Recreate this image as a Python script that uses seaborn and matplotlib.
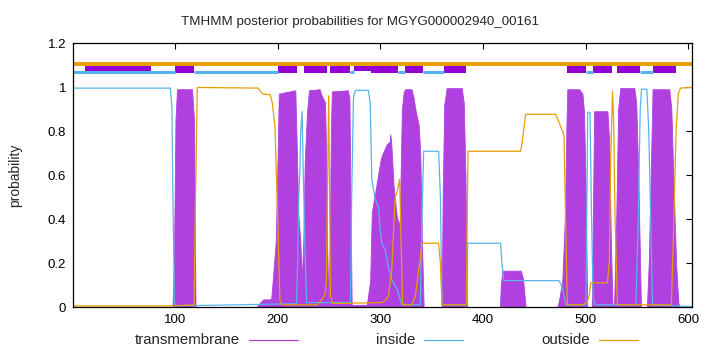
import matplotlib
matplotlib.use("Agg")
import matplotlib.pyplot as plt
import seaborn as sns
import numpy as np
from matplotlib.lines import Line2D

# posterior profiles (residue, probability)
tm_x = [1, 97.6, 99.0, 100.5, 102.0, 116.6, 118.6, 120.0, 179.1, 181.1, 186.0, 192.8, 193.8, 195.7,
        198.2, 199.6, 201.1, 217.2, 218.5, 220.1, 222.1, 223.5, 225.0, 226.4, 228.5, 230.5, 240.8,
        242.9, 246.2, 247.2, 248.1, 249.4, 250.8, 251.8, 252.8, 268.3, 269.9, 270.9, 272.1, 286.8,
        290.1, 291.7, 295.0, 299.9, 301.5, 306.3, 309.0, 309.7, 310.6, 312.9, 316.1, 318.8, 321.0,
        322.7, 324.1, 330.4, 332.4, 334.6, 337.3, 338.9, 340.5, 342.2, 359.8, 360.7, 362.2, 364.6,
        379.3, 381.2, 382.9, 384.5, 416.4, 417.4, 418.8, 436.9, 438.9, 441.5, 472.4, 474.0, 477.2,
        479.9, 481.1, 482.1, 493.6, 496.8, 498.4, 500.1, 501.4, 505.9, 507.2, 508.2, 521.2, 522.9,
        524.5, 526.1, 527.7, 529.7, 531.6, 533.6, 547.3, 549.2, 551.2, 553.8, 559.6, 561.4, 563.3,
        565.1, 581.4, 583.4, 585.3, 588.0, 590.2, 591.2, 604]
tm_y = [0, 0, 0.2, 0.85, 0.99, 0.99, 0.85, 0, 0, 0.01, 0.035, 0.035, 0.04, 0.15,
        0.3, 0.6, 0.97, 0.985, 0.75, 0.42, 0.3, 0.12, 0.3, 0.66, 0.88, 0.985, 0.99,
        0.96, 0.93, 0.7, 0.3, 0.03, 0.3, 0.8, 0.98, 0.985, 0.95, 0.5, 0.01, 0.01,
        0.12, 0.43, 0.52, 0.66, 0.69, 0.74, 0.75, 0.785, 0.75, 0.55, 0.41, 0.37, 0.9,
        0.976, 0.99, 0.99, 0.95, 0.885, 0.83, 0.7, 0.3, 0, 0, 0.5, 0.92, 0.995,
        0.995, 0.93, 0.6, 0, 0, 0.1, 0.165, 0.165, 0.13, 0, 0, 0.03, 0.12,
        0.43, 0.8, 0.99, 0.99, 0.97, 0.885, 0.5, 0, 0, 0.5, 0.89, 0.89, 0.75,
        0.3, 0, 0.02, 0.4, 0.9, 0.995, 0.995, 0.93, 0.6, 0, 0, 0.2, 0.6,
        0.99, 0.99, 0.9, 0.6, 0.2, 0.02, 0, 0]

in_x = [1, 95.6, 97.1, 98.0, 99.5, 101.0, 218.5, 219.4, 220.6, 221.6, 222.5, 223.8, 225.0, 226.4,
        228.2, 270.9, 272.1, 273.8, 275.7, 288.4, 290.1, 291.7, 295.0, 298.2, 299.9, 301.5, 304.8,
        308.0, 311.2, 314.5, 317.8, 321.0, 338.9, 340.5, 342.2, 356.8, 358.5, 360.0, 384.5, 385.1,
        417.1, 418.4, 420.3, 474.0, 477.2, 478.9, 480.6, 500.1, 501.0, 502.0, 504.2, 505.7, 507.2,
        509.1, 548.9, 551.2, 553.1, 554.4, 559.6, 561.4, 563.3, 565.1, 604]
in_y = [0.995, 0.995, 0.9, 0.5, 0.02, 0.005, 0.015, 0.2, 0.5, 0.61, 0.8, 0.89, 0.6, 0.3,
        0.02, 0.02, 0.5, 0.95, 0.985, 0.985, 0.93, 0.58, 0.49, 0.455, 0.35, 0.29, 0.26,
        0.18, 0.12, 0.1, 0.06, 0.01, 0.01, 0.4, 0.708, 0.708, 0.5, 0.01, 0.01, 0.29,
        0.29, 0.2, 0.12, 0.12, 0.09, 0.05, 0.01, 0.01, 0.4, 0.885, 0.885, 0.4, 0.05,
        0.01, 0.01, 0.4, 0.9, 0.99, 0.99, 0.8, 0.4, 0.01, 0.002]

out_x = [1, 96.0, 118.6, 120.0, 121.8, 181.1, 184.0, 186.0, 192.8, 194.7, 197.4, 199.9, 202.2, 204.5,
         238.7, 242.6, 246.2, 247.5, 248.7, 249.7, 250.4, 251.4, 253.6, 301.4, 305.1, 308.0, 309.7,
         311.2, 312.9, 314.5, 316.1, 318.8, 320.2, 321.7, 330.8, 334.1, 337.3, 338.9, 340.5, 356.7,
         358.5, 360.0, 383.8, 384.6, 385.4, 436.6, 438.2, 441.5, 470.8, 475.7, 478.9, 480.4, 482.1,
         496.8, 501.4, 503.3, 505.0, 521.2, 522.9, 524.5, 526.1, 527.2, 528.6, 530.9, 583.4, 585.3,
         588.0, 590.2, 592.2, 604]
out_y = [0.005, 0.005, 0.01, 0.5, 0.998, 0.995, 0.975, 0.968, 0.965, 0.93, 0.82, 0.43, 0.03, 0.01,
         0.01, 0.03, 0.06, 0.12, 0.6, 0.96, 0.6, 0.05, 0.016, 0.02, 0.03, 0.05, 0.12,
         0.17, 0.35, 0.5, 0.52, 0.58, 0.3, 0.01, 0.01, 0.05, 0.165, 0.22, 0.29, 0.29,
         0.2, 0.01, 0.01, 0.4, 0.708, 0.708, 0.75, 0.876, 0.876, 0.82, 0.78, 0.4, 0.01,
         0.01, 0.02, 0.05, 0.11, 0.11, 0.2, 0.7, 0.98, 0.85, 0.4, 0.01, 0.01, 0.3,
         0.8, 0.97, 0.995, 0.998]

# topology bar at the top
tm_segments = [(100.3, 118.6), (200.6, 218.5), (225.3, 247.8), (251.0, 270.6), (291.4, 316.8),
               (323.6, 341.2), (362.0, 383.9), (481.5, 500.0), (507.2, 525.5), (530.4, 552.8),
               (565.8, 588.0)]
thin_segments = [(12.8, 76.9), (274.8, 291.4)]
in_segments = [(1, 100.3), (118.6, 200.6), (270.6, 274.8), (316.8, 323.6), (341.2, 362.0),
               (500.0, 507.2), (552.8, 565.8)]
seq_len = 604

purple_fill = "#b041e0"
purple_box = "#9400d3"
blue = "#56b4e9"
orange = "#e69f00"

sns.set_style("white")
plt.rcParams['font.family'] = ['Liberation Sans', 'DejaVu Sans']

fig = plt.figure(figsize=(7.2, 3.52), dpi=100)
ax = fig.add_axes([0.1018, 0.1278, 0.86, 0.75])

ax.fill_between(tm_x, 0, tm_y, color=purple_fill, linewidth=0.6, edgecolor=purple_fill)
sns.lineplot(x=in_x, y=in_y, ax=ax, color=blue, linewidth=0.9, estimator=None, sort=False)
sns.lineplot(x=out_x, y=out_y, ax=ax, color=orange, linewidth=0.9, estimator=None, sort=False)

# top bar
ax.plot([1, seq_len], [1.106, 1.106], color=orange, linewidth=2.8, solid_capstyle='butt')
for a, b in in_segments:
    ax.plot([a, b], [1.068, 1.068], color=blue, linewidth=2.2, solid_capstyle='butt')
for a, b in thin_segments:
    ax.fill_between([a, b], 1.073, 1.097, color=purple_box, linewidth=0)
for a, b in tm_segments:
    ax.fill_between([a, b], 1.064, 1.109, color=purple_box, linewidth=0)

ax.set_xlim(1, seq_len)
ax.set_ylim(0, 1.2)
ax.set_xticks([100, 200, 300, 400, 500, 600])
ax.set_yticks([0, 0.2, 0.4, 0.6, 0.8, 1.0, 1.2])
ax.set_yticklabels(["0", "0.2", "0.4", "0.6", "0.8", "1", "1.2"])
ax.tick_params(direction='in', length=4, width=0.8, top=True, right=True,
               labelsize=9.5, pad=5, colors='black')
for s in ax.spines.values():
    s.set_visible(True)
    s.set_color('black')
    s.set_linewidth(0.9)
ax.set_ylabel("probability", fontsize=10)
ax.yaxis.set_label_coords(-0.082, 0.5)

fig.text(0.5, 1 - 22 / 352, "TMHMM posterior probabilities for MGYG000002940_00161",
         ha='center', va='center', fontsize=9.6)

# legend, text then sample line
leg_y = 1 - 340 / 352
for label, col, txt_right, l0, l1 in [("transmembrane", purple_fill, 240, 249, 298),
                                       ("inside", blue, 415, 424, 463),
                                       ("outside", orange, 590, 599, 638)]:
    fig.text(txt_right / 720, leg_y, label, ha='right', va='center', fontsize=10.8)
    fig.lines.append(Line2D([l0 / 720, l1 / 720], [leg_y, leg_y], color=col, linewidth=0.9,
                            transform=fig.transFigure))

fig.savefig("out.png", dpi=100)
